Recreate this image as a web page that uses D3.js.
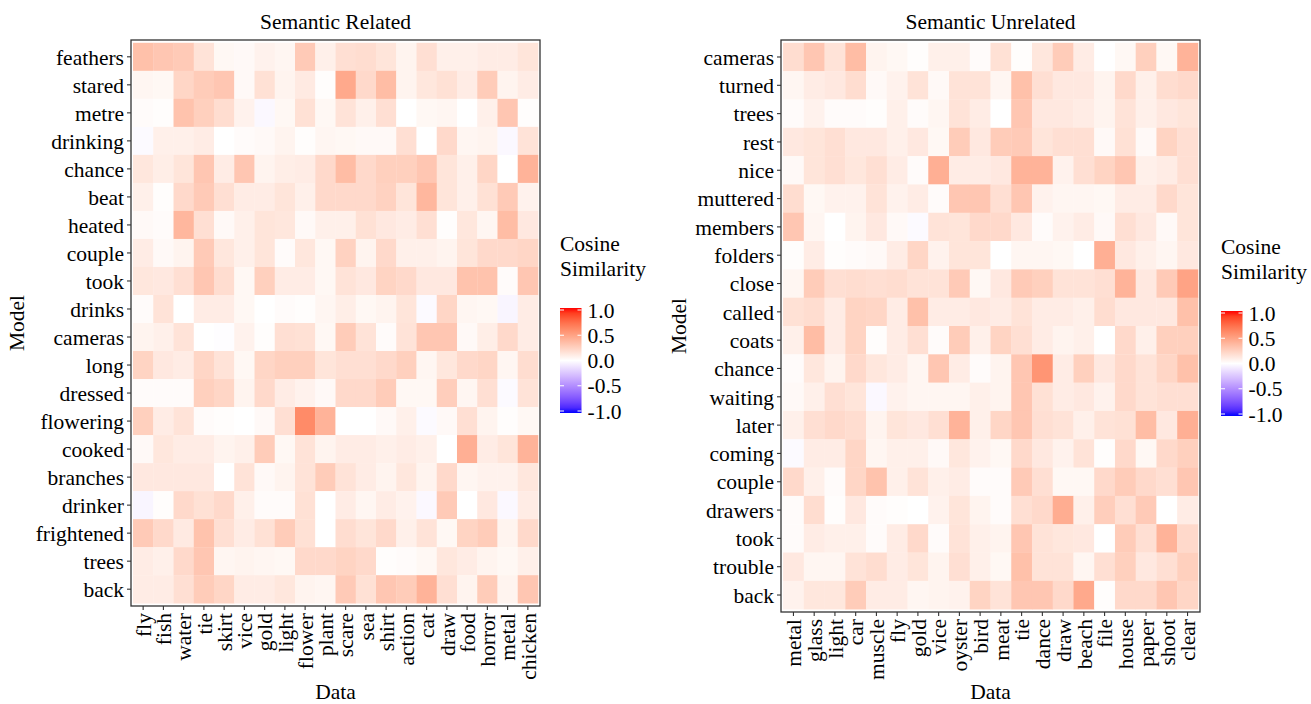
<!DOCTYPE html>
<html>
<head>
<meta charset="utf-8">
<script src="https://cdn.jsdelivr.net/npm/d3@7/dist/d3.min.js"></script>
<style>
  html, body { margin: 0; padding: 0; background: #ffffff; }
  svg { display: block; }
  svg text { font-family: "Liberation Serif", Tinos, "Times New Roman", Times, "DejaVu Serif", "Noto Serif", serif !important; fill: #000; }
</style>
</head>
<body>
<svg id="chart" width="1311" height="704"></svg>
<script>
// ---- Semantic Related ----
const relatedTitle = "Semantic Related";
const relatedRows = ["feathers","stared","metre","drinking","chance","beat","heated","couple","took","drinks",
  "cameras","long","dressed","flowering","cooked","branches","drinker","frightened","trees","back"];
const relatedCols = ["fly","fish","water","tie","skirt","vice","gold","light","flower","plant",
  "scare","sea","shirt","action","cat","draw","food","horror","metal","chicken"];
const relatedValues = [
  [0.33,0.30,0.28,0.15,0.04,0.03,0.07,0.05,0.28,0.08,0.17,0.18,0.14,0.06,0.17,0.08,0.08,0.10,0.10,0.14],
  [0.05,0.04,0.22,0.27,0.30,0.03,0.16,0.06,0.11,0.01,0.45,0.20,0.35,0.06,0.13,0.16,0.10,0.27,0.06,0.10],
  [0.02,0.01,0.32,0.25,0.18,0.07,-0.03,0.04,0.16,0.04,0.15,0.08,0.17,0.00,0.04,0.05,0.00,0.08,0.30,0.01],
  [-0.02,0.08,0.08,0.10,0.00,0.02,0.03,0.06,0.01,0.05,0.04,0.03,0.03,0.17,0.00,0.20,0.05,0.06,-0.03,0.15],
  [0.13,0.09,0.14,0.30,0.10,0.30,0.06,0.09,0.10,0.20,0.35,0.20,0.25,0.25,0.30,0.14,0.08,0.22,0.00,0.40],
  [0.08,0.01,0.20,0.28,0.17,0.10,0.10,0.14,0.08,0.20,0.20,0.20,0.24,0.14,0.38,0.14,0.08,0.16,0.28,0.07],
  [0.03,0.02,0.38,0.17,0.03,0.08,0.14,0.13,0.03,0.08,0.08,0.16,0.12,0.10,0.17,0.01,0.13,0.05,0.35,0.12],
  [0.10,0.03,0.06,0.28,0.13,0.08,0.14,0.02,0.13,0.04,0.24,0.06,0.20,0.08,0.08,0.06,0.14,0.20,0.20,0.22],
  [0.13,0.12,0.17,0.30,0.18,0.04,0.25,0.10,0.10,0.04,0.15,0.12,0.23,0.20,0.12,0.12,0.32,0.32,0.02,0.30],
  [0.02,0.15,0.00,0.10,0.10,0.04,0.00,0.02,0.01,0.05,0.09,0.04,0.06,0.14,-0.02,0.22,0.05,0.04,-0.04,0.10],
  [0.06,0.08,0.15,0.00,-0.01,0.07,0.01,0.17,0.16,0.04,0.27,0.15,0.02,0.15,0.30,0.30,0.03,0.09,0.20,0.10],
  [0.23,0.12,0.10,0.22,0.15,0.04,0.22,0.25,0.25,0.14,0.17,0.17,0.20,0.25,0.05,0.13,0.20,0.22,0.05,0.18],
  [0.02,0.02,0.02,0.25,0.22,0.06,0.20,0.10,0.07,0.03,0.20,0.20,0.27,0.04,0.04,0.26,0.05,0.17,-0.02,0.15],
  [0.25,0.10,0.15,0.02,0.01,0.00,0.03,0.17,0.60,0.40,0.00,0.00,0.03,0.08,-0.02,0.03,0.17,0.06,0.01,0.04],
  [0.03,0.13,0.10,0.10,0.06,0.08,0.27,0.04,0.15,0.06,0.10,0.10,0.08,0.10,0.08,0.00,0.42,0.10,0.14,0.40],
  [0.12,0.12,0.12,0.12,0.00,0.15,0.03,0.06,0.15,0.27,0.15,0.10,0.06,0.13,0.06,0.20,0.05,0.07,0.07,0.13],
  [-0.04,0.01,0.20,0.16,0.20,0.08,0.02,0.02,0.16,0.00,0.10,0.05,0.10,0.07,-0.03,0.28,0.00,0.12,-0.03,0.10],
  [0.28,0.20,0.11,0.32,0.17,0.10,0.16,0.27,0.16,0.00,0.18,0.14,0.20,0.08,0.15,0.04,0.23,0.27,0.06,0.20],
  [0.10,0.08,0.20,0.30,0.05,0.06,0.05,0.04,0.20,0.20,0.23,0.20,0.01,0.02,0.04,0.13,0.10,0.06,0.04,0.08],
  [0.10,0.10,0.17,0.27,0.22,0.10,0.10,0.13,0.06,0.05,0.28,0.16,0.30,0.27,0.40,0.17,0.06,0.27,0.06,0.30]
];

// ---- Semantic Unrelated ----
const unrelatedTitle = "Semantic Unrelated";
const unrelatedRows = ["cameras","turned","trees","rest","nice","muttered","members","folders","close","called",
  "coats","chance","waiting","later","coming","couple","drawers","took","trouble","back"];
const unrelatedCols = ["metal","glass","light","car","muscle","fly","gold","vice","oyster","bird",
  "meat","tie","dance","draw","beach","file","house","paper","shoot","clear"];
const unrelatedValues = [
  [0.18,0.30,0.15,0.35,0.06,0.04,0.01,0.08,0.08,0.02,0.16,0.01,0.13,0.27,0.10,0.00,0.04,0.25,0.04,0.40],
  [0.05,0.10,0.12,0.18,0.03,0.07,0.15,0.03,0.15,0.15,0.05,0.33,0.17,0.12,0.12,0.06,0.20,0.08,0.18,0.20],
  [0.02,0.07,0.02,0.02,0.01,0.08,0.02,0.05,0.15,0.10,0.00,0.30,0.12,0.12,0.10,0.06,0.15,0.08,0.12,0.14],
  [0.12,0.14,0.17,0.12,0.12,0.08,0.12,0.04,0.27,0.12,0.27,0.28,0.14,0.17,0.17,0.03,0.16,0.03,0.23,0.17],
  [0.03,0.14,0.17,0.13,0.17,0.10,0.02,0.42,0.10,0.10,0.12,0.40,0.40,0.07,0.17,0.23,0.30,0.08,0.10,0.17],
  [0.18,0.04,0.07,0.07,0.15,0.07,0.10,0.02,0.30,0.30,0.17,0.30,0.07,0.05,0.05,0.04,0.10,0.10,0.20,0.14],
  [0.30,0.05,0.00,0.06,0.12,0.03,-0.02,0.15,0.14,0.20,0.20,0.12,0.02,0.07,0.10,0.03,0.17,0.12,0.03,0.14],
  [0.01,0.10,0.01,0.02,0.03,0.10,0.22,0.07,0.14,0.14,0.00,0.05,0.05,0.04,0.00,0.42,0.12,0.08,0.05,0.12],
  [0.05,0.27,0.17,0.18,0.17,0.18,0.15,0.15,0.28,0.04,0.12,0.28,0.25,0.15,0.15,0.17,0.40,0.12,0.28,0.48],
  [0.16,0.18,0.10,0.23,0.22,0.10,0.33,0.10,0.10,0.12,0.10,0.15,0.10,0.10,0.08,0.18,0.12,0.12,0.12,0.33],
  [0.08,0.35,0.10,0.23,0.01,0.10,0.17,0.02,0.27,0.08,0.23,0.17,0.10,0.06,0.08,0.00,0.20,0.08,0.25,0.25],
  [0.02,0.13,0.06,0.20,0.13,0.10,0.05,0.30,0.10,0.02,0.06,0.30,0.55,0.10,0.25,0.12,0.20,0.15,0.22,0.33],
  [0.03,0.08,0.17,0.14,-0.03,0.07,0.05,0.05,0.05,0.08,0.06,0.30,0.16,0.10,0.12,0.07,0.20,0.15,0.17,0.17],
  [0.08,0.17,0.20,0.18,0.06,0.14,0.12,0.17,0.40,0.08,0.22,0.30,0.17,0.15,0.08,0.15,0.16,0.35,0.12,0.42],
  [-0.02,0.10,0.10,0.22,0.05,0.08,0.08,0.03,0.13,0.07,0.04,0.20,0.12,0.07,0.15,0.01,0.20,0.04,0.20,0.25],
  [0.20,0.08,0.02,0.22,0.32,0.08,0.15,0.08,0.10,0.02,0.02,0.28,0.17,0.04,0.04,0.20,0.27,0.20,0.17,0.30],
  [0.02,0.18,0.01,0.12,0.02,0.01,0.00,0.07,0.14,0.06,0.02,0.17,0.20,0.43,0.08,0.26,0.17,0.28,0.00,0.10],
  [0.02,0.10,0.08,0.08,0.02,0.10,0.20,0.02,0.15,0.08,0.06,0.30,0.15,0.13,0.12,0.00,0.27,0.17,0.40,0.20],
  [0.12,0.05,0.05,0.15,0.18,0.10,0.14,0.06,0.17,0.08,0.04,0.33,0.15,0.15,0.05,0.17,0.25,0.12,0.17,0.25],
  [0.07,0.13,0.13,0.27,0.10,0.10,0.05,0.06,0.07,0.23,0.15,0.30,0.30,0.20,0.45,0.01,0.20,0.20,0.30,0.22]
];

// ---- shared scale / legend ----
const legendTitle = ["Cosine", "Similarity"];
const legendTicks = [1.0, 0.5, 0.0, -0.5, -1.0];
const xAxisTitle = "Data";
const yAxisTitle = "Model";

const FONT = 21.5;
const SERIF = '"Liberation Serif", Tinos, "Times New Roman", Times, "DejaVu Serif", "Noto Serif", serif';
const svg = d3.select("#chart");

// diverging blue-white-red fill, interpolated in Lab
const color = d3.scaleLinear()
  .domain([-1, 0, 1])
  .range(["#0000ff", "#ffffff", "#ff0000"])
  .interpolate(d3.interpolateLab);

// shared vertical gradient for the colour bars
const defs = svg.append("defs");
const grad = defs.append("linearGradient")
  .attr("id", "cosGrad").attr("x1", 0).attr("y1", 0).attr("x2", 0).attr("y2", 1);
d3.range(0, 21).forEach(i => {
  const v = 1 - i / 10;
  grad.append("stop").attr("offset", (i / 20 * 100) + "%").attr("stop-color", color(v));
});

function drawPanel(cfg) {
  const { title, rows, cols, values, left, right, top, bottom, legendX } = cfg;
  const g = svg.append("g").attr("font-family", SERIF).style("font-family", SERIF);

  const x = d3.scaleBand().domain(cols).range([left, right]).paddingInner(0).paddingOuter(0.1);
  const y = d3.scaleBand().domain(rows).range([top, bottom]).paddingInner(0).paddingOuter(0.1);

  const cells = [];
  rows.forEach((r, i) => cols.forEach((c, j) => cells.push({ r, c, v: values[i][j] })));

  g.append("g").selectAll("rect").data(cells).join("rect")
    .attr("x", d => x(d.c))
    .attr("y", d => y(d.r))
    .attr("width", x.bandwidth() + 0.3)
    .attr("height", y.bandwidth() + 0.3)
    .attr("fill", d => color(d.v));

  // panel border
  g.append("rect")
    .attr("x", left).attr("y", top)
    .attr("width", right - left).attr("height", bottom - top)
    .attr("fill", "none").attr("stroke", "#333333").attr("stroke-width", 1.3);

  // y axis
  const yAxis = d3.axisLeft(y).tickSize(4).tickPadding(3);
  const ya = g.append("g").attr("transform", `translate(${left},0)`).call(yAxis)
    .attr("font-family", SERIF);
  ya.select(".domain").remove();
  ya.selectAll(".tick line").attr("stroke", "#333333").attr("stroke-width", 1.1);
  ya.selectAll(".tick text")
    .style("font-family", SERIF).attr("font-size", FONT)
    .attr("fill", "#000").attr("dy", "0.36em");

  // x axis with vertical labels
  const xAxis = d3.axisBottom(x).tickSize(4).tickPadding(3);
  const xa = g.append("g").attr("transform", `translate(0,${bottom})`).call(xAxis)
    .attr("font-family", SERIF);
  xa.select(".domain").remove();
  xa.selectAll(".tick line").attr("stroke", "#333333").attr("stroke-width", 1.1);
  xa.selectAll(".tick text")
    .style("font-family", SERIF).attr("font-size", FONT)
    .attr("fill", "#000")
    .attr("text-anchor", "end")
    .attr("transform", "rotate(-90)")
    .attr("x", -7).attr("y", 0).attr("dy", "0.36em");

  // titles
  const cx = (left + right) / 2;
  g.append("text").attr("x", cx).attr("y", 29).attr("text-anchor", "middle")
    .attr("font-size", FONT).text(title);
  g.append("text").attr("x", cx).attr("y", 699).attr("text-anchor", "middle")
    .attr("font-size", FONT).text(xAxisTitle);
  g.append("text")
    .attr("transform", `translate(${cfg.yTitleX},${(top + bottom) / 2}) rotate(-90)`)
    .attr("text-anchor", "middle").attr("font-size", FONT).text(yAxisTitle);

  // colour bar legend
  const mid = (top + bottom) / 2;
  const barTop = mid - 15, barH = 105, barW = 21.5;
  const lg = g.append("g").attr("transform", `translate(${legendX},0)`);
  lg.append("text").attr("x", 0).attr("y", mid - 72).attr("font-size", FONT).text(legendTitle[0]);
  lg.append("text").attr("x", 0).attr("y", mid - 47).attr("font-size", FONT).text(legendTitle[1]);
  lg.append("rect").attr("x", 0).attr("y", barTop).attr("width", barW).attr("height", barH)
    .attr("fill", "url(#cosGrad)");
  const ly = d3.scaleLinear().domain([1, -1]).range([barTop + 2, barTop + barH - 2]);
  legendTicks.forEach(t => {
    lg.append("line").attr("x1", 0).attr("x2", 4).attr("y1", ly(t)).attr("y2", ly(t))
      .attr("stroke", "#ffffff").attr("stroke-width", 1);
    lg.append("line").attr("x1", barW - 4).attr("x2", barW).attr("y1", ly(t)).attr("y2", ly(t))
      .attr("stroke", "#ffffff").attr("stroke-width", 1);
    lg.append("text").attr("x", barW + 6).attr("y", ly(t)).attr("dy", "0.36em")
      .attr("font-size", FONT).text(d3.format(".1f")(t).replace("−", "-"));
  });
}

drawPanel({
  title: relatedTitle, rows: relatedRows, cols: relatedCols, values: relatedValues,
  left: 131, right: 540, top: 40, bottom: 606, legendX: 560, yTitleX: 24
});
drawPanel({
  title: unrelatedTitle, rows: unrelatedRows, cols: unrelatedCols, values: unrelatedValues,
  left: 781, right: 1200, top: 40, bottom: 612, legendX: 1221, yTitleX: 686
});
</script>
</body>
</html>
